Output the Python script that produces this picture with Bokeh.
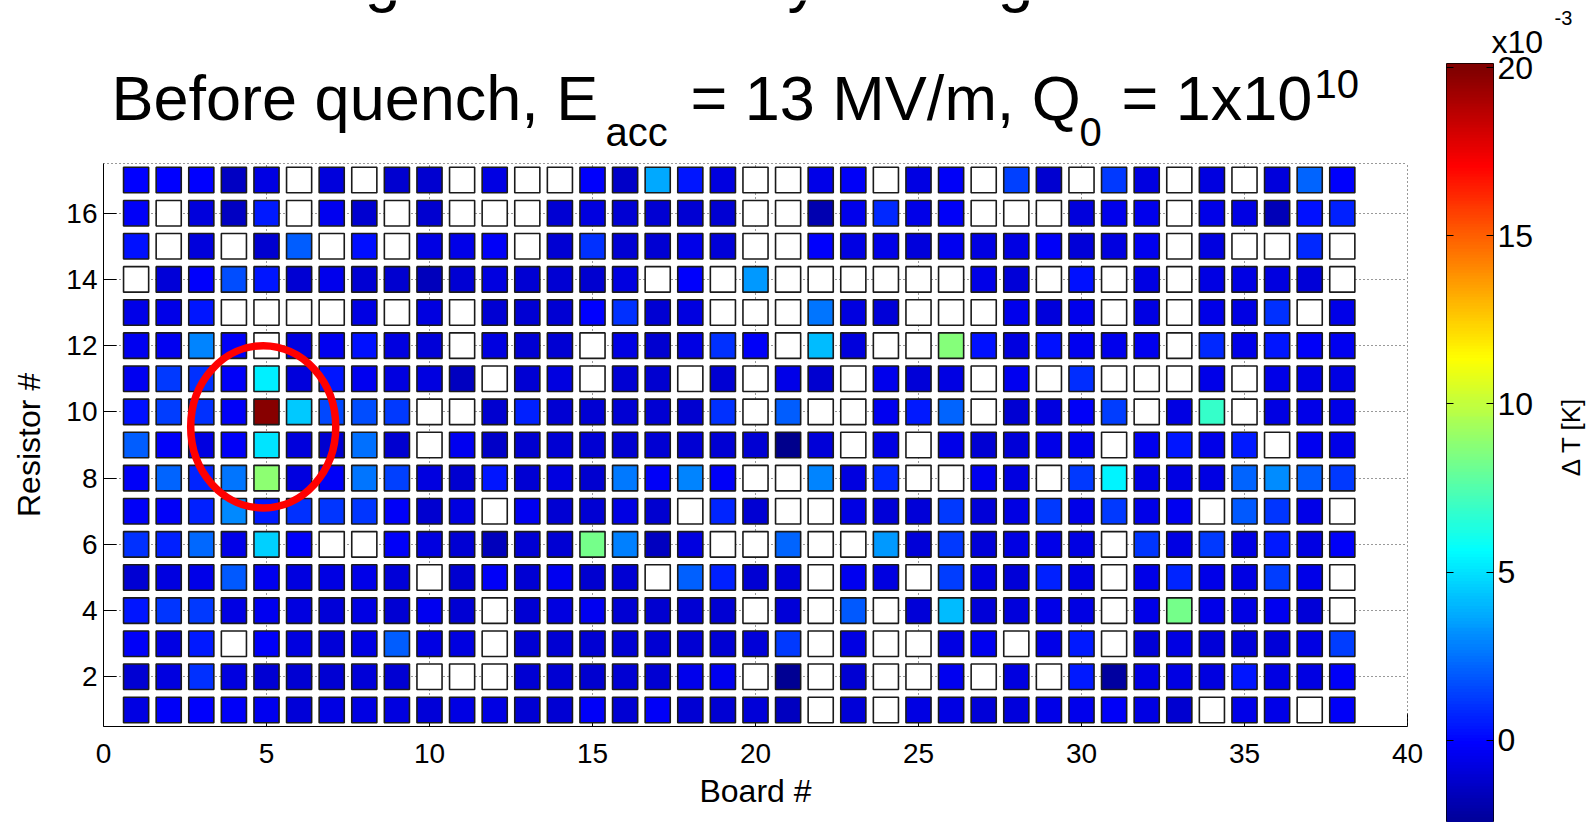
import numpy as np
from bokeh.plotting import figure
from bokeh.models import (ColumnDataSource, LinearColorMapper, FixedTicker,
                          LinearAxis, Range1d)
from bokeh.core.properties import value
from bokeh.layouts import row, column
from bokeh.embed import file_html
from bokeh.resources import INLINE

nan = float("nan")

# ---------------- data (Delta T in units of 1e-3 K; nan = no reading) -------------
boards = list(range(1, 39))
resistors = list(range(17, 0, -1))

r17 = [-0.1, -0.1, -0.1, -1.4, -0.7, nan, -0.9, nan, -1.2, -1.2, nan, -0.7, nan,
       nan, -0.2, -1.3, 3.7, 0.4, -0.8, nan, nan, -0.6, -0.3, nan, -0.7, -0.3,
       nan, 1.4, -1.2, nan, 1.2, -0.8, nan, -0.8, nan, -0.9, 2.2, -0.2]
r16 = [-0.3, nan, -0.9, -1.4, 0.5, nan, -0.4, -1.2, nan, -1.2, nan, nan, nan,
       -1.1, -0.8, -1.1, -1.1, -1.1, -1.1, nan, nan, -1.9, -0.5, 0.8, -0.6, -0.3,
       nan, nan, nan, -0.9, -0.5, -0.5, nan, -0.6, -0.7, -1.7, 0.3, 0.6]
r15 = [0.3, nan, -0.9, nan, -1.2, 2.0, nan, 0.2, nan, -0.7, -0.6, -0.3, nan,
       -1.1, 1.0, -1.1, -1.1, -0.6, -1.0, nan, nan, -0.2, -0.7, -0.6, -0.9, -0.4,
       -0.7, -0.7, -0.3, -1.0, -0.8, -0.4, nan, -0.8, nan, nan, 0.8, nan]
r14 = [nan, -1.0, -0.2, 1.6, 0.4, -1.1, -0.5, -1.1, -1.2, -1.6, -1.1, -0.8, -1.1,
       -1.1, -1.2, -0.8, nan, -0.2, nan, 3.3, nan, nan, nan, nan, nan, nan,
       -0.6, -1.0, nan, 0.3, nan, -0.7, nan, -0.7, -0.7, -0.8, -1.0, nan]
r13 = [-0.6, -0.6, 0.4, nan, nan, nan, nan, -0.7, nan, -0.8, nan, -1.1, -1.1,
       -1.1, -0.1, 1.0, -1.1, -0.8, nan, nan, nan, 2.5, -0.8, -1.0, nan, nan,
       nan, -0.5, -0.9, -0.5, nan, -0.7, nan, -0.6, -0.7, 1.0, nan, -0.6]
r12 = [-0.4, -0.4, 2.9, -0.3, nan, -0.8, -0.4, 0.3, -0.8, -1.0, nan, -0.8, -1.1,
       -1.1, nan, -0.7, -1.2, -0.7, 1.0, -0.3, nan, 4.1, -0.9, nan, nan, 8.6,
       0.3, -0.8, 0.3, -0.4, -0.5, -0.4, nan, 0.8, -0.6, 0.4, -0.3, -0.4]
r11 = [-0.4, 1.2, 1.0, -0.3, 5.3, -0.9, 0.4, -0.4, -0.8, -0.8, -1.5, nan, -1.1,
       -0.8, nan, -1.1, -1.2, nan, -1.1, nan, -0.6, -1.2, nan, -0.5, -1.0, -0.7,
       nan, -0.4, nan, 0.9, nan, nan, nan, -0.6, nan, -0.6, -0.7, -0.7]
r10 = [0.3, 1.3, 1.0, -0.3, 19.8, 4.4, 1.5, 1.6, 1.2, nan, nan, -1.2, 0.6,
       -1.1, -1.1, -1.1, -1.1, -1.2, 1.0, nan, 2.0, nan, nan, -0.4, 0.5, 2.2,
       nan, -1.1, -0.8, -0.3, 1.3, nan, -0.7, 6.8, nan, -0.7, -0.6, -0.6]
r9 = [2.0, -0.3, -0.8, -0.3, 5.0, -0.9, -1.2, 2.4, -1.2, nan, -0.4, -1.3, -1.2,
      -1.1, -1.1, -1.2, -1.1, -1.1, -1.1, -1.1, -2.7, -1.0, nan, -0.7, nan, -0.6,
      -1.1, -1.0, -0.6, -0.5, nan, -0.4, 0.4, -0.6, 0.5, nan, -0.4, -0.6]
r8 = [-0.3, 2.2, 0.7, 2.5, 8.8, -0.8, -0.3, 2.5, 1.4, -0.8, -1.2, 0.4, -1.1,
      -0.8, -1.2, 2.6, -0.3, 2.9, -0.3, nan, nan, 2.9, -0.8, 0.8, nan, nan,
      -0.4, -0.8, nan, 1.2, 5.4, -0.7, -0.7, -0.7, 2.2, 3.1, 2.0, 1.2]
r7 = [-0.3, -0.3, 0.6, 3.0, 0.5, 1.0, 1.1, 1.1, -0.3, -1.2, -0.8, nan, -0.4,
      -1.1, -1.1, -0.7, -1.2, nan, 0.7, -1.1, nan, nan, -0.7, -1.0, -1.0, 1.2,
      -1.0, -0.7, 1.2, -0.6, 1.2, -0.6, -0.4, nan, 1.9, 1.1, -0.6, nan]
r6 = [1.0, 0.6, 2.3, -0.6, 4.6, -0.3, nan, nan, -0.3, -0.8, -1.1, -1.6, -1.1,
      -1.1, 8.3, 2.8, -1.5, -0.8, nan, nan, 2.2, nan, nan, 3.3, -1.0, 1.2,
      -1.0, -0.7, -0.6, -0.7, nan, 1.1, -0.7, 1.2, -0.7, 0.5, -0.7, -0.3]
r5 = [-1.1, -0.8, -0.6, 1.9, -0.4, -0.8, -0.7, -0.6, -1.0, nan, -1.2, -0.3, -1.1,
      -0.4, -1.2, -1.1, nan, 2.1, 0.6, -1.1, -1.0, nan, -0.4, -0.8, nan, 1.3,
      -0.8, -1.0, 0.6, -0.7, nan, -0.6, 0.7, -0.6, -0.7, 1.3, -0.6, nan]
r4 = [0.4, 1.1, 1.2, -0.7, -0.4, -0.8, -1.0, -0.7, -1.1, -0.4, -1.1, nan, -1.1,
      -0.8, -0.4, -1.1, -1.2, -1.1, -1.1, nan, -1.0, nan, 1.9, nan, -1.0, 4.1,
      -1.0, -0.9, -0.6, -0.7, nan, -0.6, 8.3, -0.6, -0.7, -0.4, -1.0, nan]
r3 = [-0.3, -0.7, 0.5, nan, -0.3, -0.8, -1.0, -0.7, 2.0, -0.7, -0.8, nan, -1.1,
      -1.1, -1.1, -1.1, -1.1, -1.1, -1.1, -1.0, 1.2, nan, -0.7, nan, nan, -0.7,
      -0.4, nan, -0.6, 0.5, nan, -1.0, -0.7, -1.0, -1.0, -1.0, -0.7, 1.3]
r2 = [-1.1, -0.8, 1.0, -0.8, -1.1, -1.1, -1.1, -1.0, -1.1, nan, nan, nan, -1.1,
      -1.1, -1.2, -1.1, -1.1, -0.5, -0.4, nan, -2.5, nan, -1.1, nan, nan, -0.4,
      nan, -0.8, nan, 0.5, -2.2, -0.7, -0.7, -0.8, 0.4, -0.7, -0.7, -0.3]
r1 = [-0.7, -0.3, -0.2, -0.3, -0.4, -1.0, -0.7, -0.7, -0.8, -1.0, -0.7, -0.7, -1.1,
      -1.1, -0.3, -1.1, -0.3, -1.1, -1.1, -1.0, -1.5, nan, -1.0, nan, -0.7, -0.7,
      -1.0, -0.9, -0.6, -0.5, -0.3, -0.7, -1.2, nan, -0.6, -0.6, nan, -0.3]
rows_by_resistor = [r17, r16, r15, r14, r13, r12, r11, r10, r9,
                    r8, r7, r6, r5, r4, r3, r2, r1]

x_ticks = [0, 5, 10, 15, 20, 25, 30, 35, 40]
y_ticks = [2, 4, 6, 8, 10, 12, 14, 16]
cbar_ticks = [0, 5, 10, 15, 20]
c_low, c_high = -3.0, 20.0          # colour scale limits (x1e-3 K)
cbar_view = (-2.44, 20.12)          # part of the colour bar that is visible

# red marker ellipse (board, resistor, width, height)
mark_x, mark_y, mark_w, mark_h = 4.9, 9.55, 4.45, 4.9

FONT = "Liberation Sans"
WIN_W, WIN_H = 1588, 822
BASE_FIX = 0.35   # baseline correction (fraction of font size) for text glyphs


def jet_hex(t):
    r = min(1.0, max(0.0, 1.5 - abs(4 * t - 3)))
    g = min(1.0, max(0.0, 1.5 - abs(4 * t - 2)))
    b = min(1.0, max(0.0, 1.5 - abs(4 * t - 1)))
    return "#%02x%02x%02x" % (round(r * 255), round(g * 255), round(b * 255))


palette = [jet_hex(i / 255) for i in range(256)]
mapper = LinearColorMapper(palette=palette, low=c_low, high=c_high, nan_color="white")

xs, ys, vs = [], [], []
for r, vals in zip(resistors, rows_by_resistor):
    for b, v in zip(boards, vals):
        xs.append(b)
        ys.append(r)
        vs.append(v)
src = ColumnDataSource(dict(board=xs, resistor=ys, dT=np.array(vs, dtype=float)))


def blank(width, height, x0, x1, y0, y1, left=0, right=0, top=0, bottom=0):
    """Figure whose frame coordinates are page pixels (y grows downwards)."""
    f = figure(width=width, height=height, title=None,
               x_range=Range1d(x0 + left, x1 - right),
               y_range=Range1d(y1 - bottom, y0 + top),
               output_backend="svg", toolbar_location=None,
               x_axis_type=None, y_axis_type=None,
               min_border_left=left, min_border_right=right,
               min_border_top=top, min_border_bottom=bottom)
    f.grid.visible = False
    f.outline_line_color = None
    return f


def put_text(fig, xs_, baselines, texts, size, align="left"):
    fs = float(size)
    fig.text(x=xs_, y=[b - BASE_FIX * fs for b in baselines], text=texts,
             text_font=value(FONT), text_font_size="%dpx" % size,
             text_color="black", text_align=align, text_baseline="alphabetic")


# ---------------- geometry of the main map ----------------
W1 = 1430
TITLE_H = 159
L, R, T, B = 103, 23, 4, 96

# ---------------- title strip ----------------
p_title = blank(W1, TITLE_H, 0, W1, 0, TITLE_H, left=L, right=R)
put_text(p_title, [111, 690, 1121], [120, 120, 120],
         ["Before quench, E", "= 13 MV/m, Q", "= 1x10"], 63)
put_text(p_title, [605, 1079, 1314], [145, 145, 97], ["acc", "0", "10"], 40)
# descenders of the slide heading, cut off at the top edge of the picture
put_text(p_title, [382, 803, 1015], [0, 0, 0], ["g", "y", "g"], 64, align="center")

# ---------------- main map ----------------
H1 = WIN_H - TITLE_H
p1 = figure(width=W1, height=H1, title=None,
            x_range=Range1d(0, 40), y_range=Range1d(0.5, 17.5),
            output_backend="svg", toolbar_location=None,
            min_border_left=L, min_border_right=R, min_border_top=T, min_border_bottom=B)
p1.outline_line_color = None

p1.rect(x="board", y="resistor", width=0.77, height=0.77, source=src,
        fill_color={"field": "dT", "transform": mapper},
        line_color="#1a1a1a", line_width=1.6, level="overlay")

p1.ellipse(x=[mark_x], y=[mark_y], width=[mark_w], height=[mark_h],
           fill_color=None, line_color="#ff0000", line_width=7.5, level="overlay")

p1.xaxis.ticker = FixedTicker(ticks=x_ticks)
p1.yaxis.ticker = FixedTicker(ticks=y_ticks)
p1.xgrid.ticker = FixedTicker(ticks=x_ticks)
p1.ygrid.ticker = FixedTicker(ticks=y_ticks)
p1.grid.grid_line_color = "#333333"
p1.grid.grid_line_dash = "1 3"
p1.grid.grid_line_width = 1

for ax in (p1.xaxis, p1.yaxis):
    ax.major_tick_in = 13
    ax.major_tick_out = 0
    ax.minor_tick_line_color = None
    ax.axis_line_color = "black"
    ax.major_tick_line_color = "black"
    ax.major_label_text_font = FONT
    ax.major_label_text_font_size = "28px"
    ax.major_label_text_color = "black"
    ax.axis_label_text_font = FONT
    ax.axis_label_text_font_size = "32px"
    ax.axis_label_text_font_style = "normal"
    ax.axis_label_text_color = "black"
p1.xaxis.axis_label = "Board #"
p1.yaxis.axis_label = "Resistor #"
p1.xaxis.major_label_standoff = 17
p1.yaxis.major_label_standoff = 6
p1.xaxis.axis_label_standoff = 7
p1.yaxis.axis_label_standoff = 16

for side in ("above", "right"):
    ax = LinearAxis(ticker=FixedTicker(ticks=[]), axis_line_dash="1 3",
                    axis_line_color="#333333", major_tick_out=0, major_tick_in=0,
                    major_tick_line_color=None, minor_tick_line_color=None)
    p1.add_layout(ax, side)

# ---------------- colour bar ----------------
W2 = WIN_W - W1
TOP_H = 54
BAR_TOP = 63
p2_top = blank(W2, TOP_H, W1, WIN_W, 0, TOP_H)
put_text(p2_top, [1491], [53], ["x10"], 32)
put_text(p2_top, [1554], [24], ["-3"], 20)

BAR_W = 112
L2, BW = 16, 47
p2 = figure(width=BAR_W, height=WIN_H - TOP_H, title=None,
            x_range=Range1d(0, 1), y_range=Range1d(*cbar_view),
            output_backend="svg", toolbar_location=None,
            x_axis_type=None, y_axis_type=None,
            min_border_left=L2, min_border_right=BAR_W - L2 - BW,
            min_border_top=BAR_TOP - TOP_H, min_border_bottom=0)
p2.grid.visible = False
p2.outline_line_color = "black"
p2.outline_line_width = 1
bar_top = cbar_view[1]
bar = np.linspace(c_low, bar_top, 512).reshape(-1, 1)
p2.image(image=[bar], x=0, y=c_low, dw=1, dh=bar_top - c_low, color_mapper=mapper)

for side in ("left", "right"):
    ax = LinearAxis(ticker=FixedTicker(ticks=cbar_ticks), major_tick_in=7,
                    major_tick_out=0, minor_tick_line_color=None,
                    axis_line_color=None, major_tick_line_color="black",
                    major_label_text_font=FONT, major_label_text_font_size="32px",
                    major_label_text_color="black", major_label_standoff=4)
    if side == "left":
        ax.major_label_overrides = {t: "" for t in cbar_ticks}
        ax.major_label_standoff = 0
    p2.add_layout(ax, side)

LAB_X0 = W1 + BAR_W
p2_lab = blank(WIN_W - LAB_X0, WIN_H - TOP_H, LAB_X0, WIN_W, TOP_H, WIN_H,
               top=BAR_TOP - TOP_H)
p2_lab.text(x=[1570], y=[436], text=["\u0394 T [K]"], text_font=value(FONT),
            text_font_size="26px", text_color="black", angle=np.pi / 2,
            text_align="center", text_baseline="middle")

layout = row(column(p_title, p1, spacing=0),
             column(p2_top, row(p2, p2_lab, spacing=0), spacing=0),
             spacing=0)
open("out.html", "w").write(file_html(layout, INLINE))
